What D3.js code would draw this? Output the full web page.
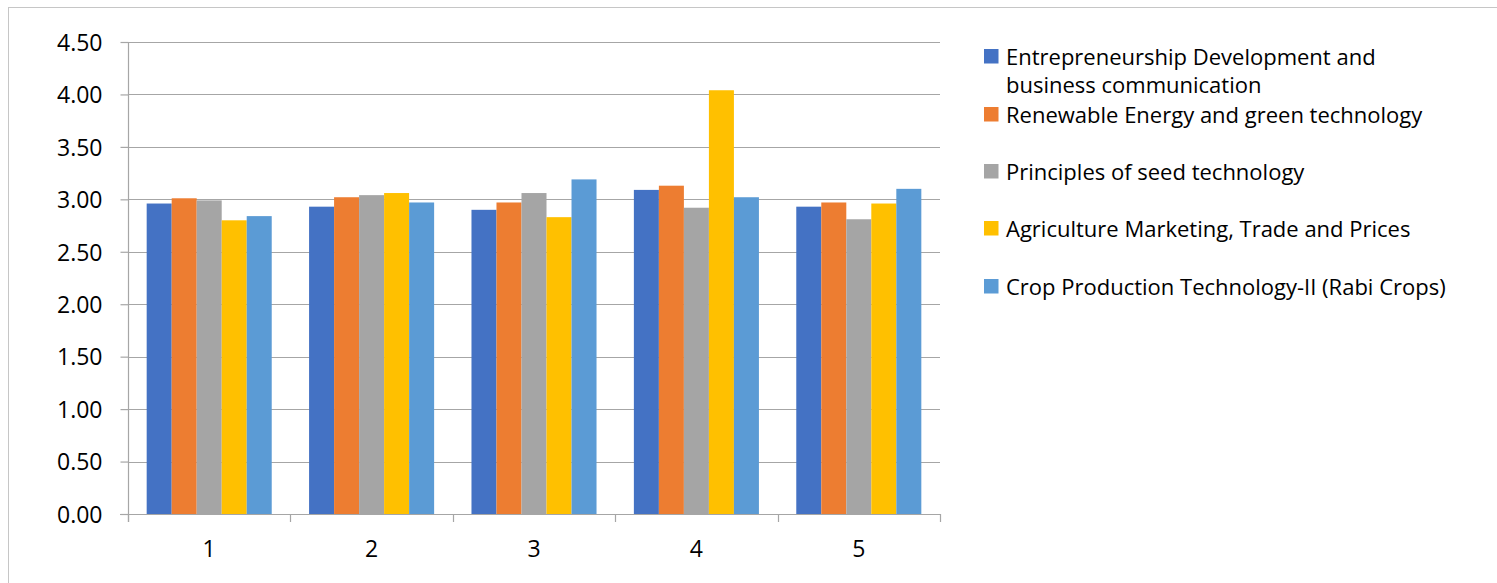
<!DOCTYPE html>
<html><head><meta charset="utf-8">
<script src="https://cdn.jsdelivr.net/npm/d3@7"></script>
<style>body{margin:0;background:#fff}svg{display:block}</style>
</head><body>
<svg id="c" width="1497" height="583"></svg>
<script>
const categories = ["1","2","3","4","5"];
const seriesNames = [
  "Entrepreneurship Development and business communication",
  "Renewable Energy and green technology",
  "Principles of seed technology",
  "Agriculture Marketing, Trade and Prices",
  "Crop Production Technology-II (Rabi Crops)"
];
const entrepreneurship = [2.96, 2.93, 2.90, 3.09, 2.93];
const renewable = [3.01, 3.02, 2.97, 3.13, 2.97];
const seedTech = [2.99, 3.04, 3.06, 2.92, 2.81];
const agriMarketing = [2.80, 3.06, 2.83, 4.04, 2.96];
const cropProduction = [2.84, 2.97, 3.19, 3.02, 3.10];
const seriesValues = [entrepreneurship, renewable, seedTech, agriMarketing, cropProduction];
const yTicks = [0, 0.5, 1, 1.5, 2, 2.5, 3, 3.5, 4, 4.5];
const colors = ["#4472C4", "#ED7D31", "#A5A5A5", "#FFC000", "#5B9BD5"];

const svg = d3.select("#c");
const font = "Open Sans, Noto Sans, sans-serif";
const L = 128, R = 940, T = 42, B = 514;

// outer border
svg.append("rect").attr("x", 8.5).attr("y", 7.5).attr("width", 1600).attr("height", 700)
  .attr("fill", "none").attr("stroke", "#c6c6c6").attr("stroke-width", 1);

const x0 = d3.scaleBand().domain(categories).range([L, R]).paddingInner(0.23).paddingOuter(0.115);
const x1 = d3.scaleBand().domain(d3.range(seriesNames.length)).range([0, x0.bandwidth()]);
const y = d3.scaleLinear().domain([0, 4.5]).range([B, T]);

// gridlines
svg.append("g").selectAll("line").data(yTicks.filter(d => d > 0)).join("line")
  .attr("x1", L).attr("x2", R)
  .attr("y1", d => Math.round(y(d)) + 0.5).attr("y2", d => Math.round(y(d)) + 0.5)
  .attr("stroke", "#a6a6a6").attr("stroke-width", 1.2);

// bars
const rows = categories.map((c, i) => ({c, vals: seriesValues.map((s, k) => ({k, v: s[i]}))}));
const g = svg.append("g").selectAll("g").data(rows).join("g")
  .attr("transform", d => `translate(${x0(d.c)},0)`);
g.selectAll("rect").data(d => d.vals).join("rect")
  .attr("x", d => x1(d.k)).attr("width", x1.bandwidth())
  .attr("y", d => y(d.v)).attr("height", d => B - y(d.v))
  .attr("fill", d => colors[d.k]);

// y axis
const ya = svg.append("g").attr("transform", `translate(${L + 0.5},0)`)
  .call(d3.axisLeft(y).tickValues(yTicks).tickFormat(d3.format(".2f")).tickSize(8).tickSizeOuter(0).tickPadding(18));
ya.select(".domain").remove();
ya.selectAll(".tick line").attr("stroke", "#a6a6a6").attr("stroke-width", 1.2);
ya.selectAll(".tick text").attr("font-family", font).attr("font-size", 23).attr("fill", "#000").attr("dy", "0.36em");
svg.append("line").attr("x1", L + 0.5).attr("x2", L + 0.5).attr("y1", T).attr("y2", B + 8)
  .attr("stroke", "#a6a6a6").attr("stroke-width", 1.2);

// x axis
svg.append("line").attr("x1", L - 8).attr("x2", R + 0.5).attr("y1", B + 0.5).attr("y2", B + 0.5)
  .attr("stroke", "#a6a6a6").attr("stroke-width", 1.2);
const bounds = [L, ...categories.map(c => x0(c) + x0.bandwidth() + x0.step() * x0.paddingInner() / 2)];
svg.append("g").selectAll("line").data(bounds).join("line")
  .attr("x1", d => Math.round(d) + 0.5).attr("x2", d => Math.round(d) + 0.5)
  .attr("y1", B).attr("y2", B + 8).attr("stroke", "#a6a6a6").attr("stroke-width", 1.2);
svg.append("g").selectAll("text").data(categories).join("text")
  .attr("x", d => x0(d) + x0.bandwidth() / 2).attr("y", 557)
  .attr("text-anchor", "middle").attr("font-family", font).attr("font-size", 23).attr("fill", "#000")
  .text(d => d);

// legend
const legendRows = [
  {k: 0, lines: ["Entrepreneurship Development and", "business communication"], base: 65},
  {k: 1, lines: ["Renewable Energy and green technology"], base: 123},
  {k: 2, lines: ["Principles of seed technology"], base: 180},
  {k: 3, lines: ["Agriculture Marketing, Trade and Prices"], base: 237},
  {k: 4, lines: ["Crop Production Technology-II (Rabi Crops)"], base: 295}
];
const lg = svg.append("g").selectAll("g").data(legendRows).join("g");
lg.append("rect").attr("x", 984).attr("y", d => d.base - 16).attr("width", 14.5).attr("height", 14.5)
  .attr("fill", d => colors[d.k]);
lg.each(function(d) {
  d.lines.forEach((ln, i) => d3.select(this).append("text")
    .attr("font-family", font).attr("font-size", 22).attr("fill", "#000")
    .attr("x", 1006).attr("y", d.base + i * 28).text(ln));
});
</script>
</body></html>
